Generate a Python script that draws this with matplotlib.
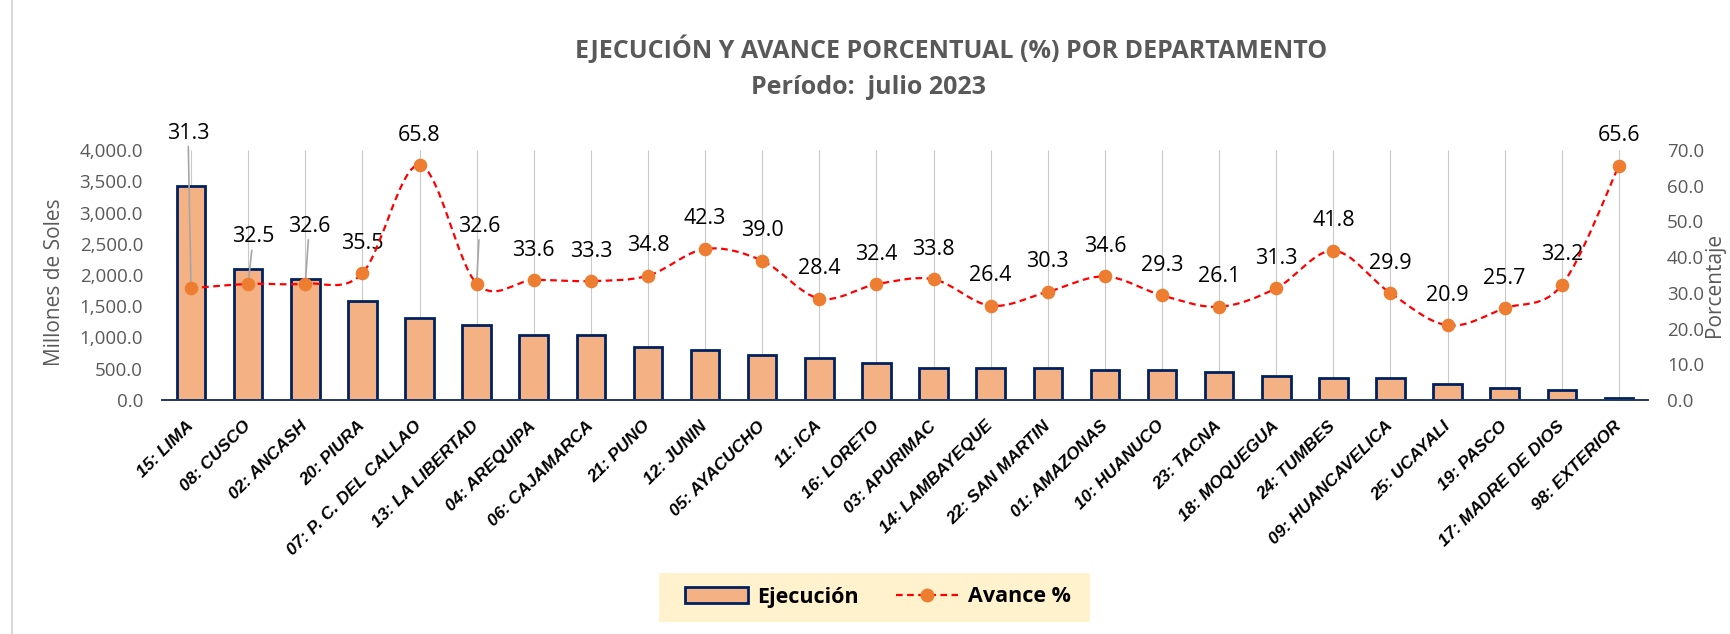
import matplotlib
matplotlib.use('Agg')
import matplotlib.pyplot as plt
from matplotlib.path import Path
from matplotlib.patches import PathPatch, Patch, Rectangle
from matplotlib.lines import Line2D
import matplotlib.ticker as mticker
import numpy as np

plt.rcParams['font.family'] = ['Open Sans', 'DejaVu Sans']

# datos
departamentos = ['15: LIMA', '08: CUSCO', '02: ANCASH', '20: PIURA', '07: P. C. DEL CALLAO',
                 '13: LA LIBERTAD', '04: AREQUIPA', '06: CAJAMARCA', '21: PUNO', '12: JUNIN',
                 '05: AYACUCHO', '11: ICA', '16: LORETO', '03: APURIMAC', '14: LAMBAYEQUE',
                 '22: SAN MARTIN', '01: AMAZONAS', '10: HUANUCO', '23: TACNA', '18: MOQUEGUA',
                 '24: TUMBES', '09: HUANCAVELICA', '25: UCAYALI', '19: PASCO',
                 '17: MADRE DE DIOS', '98: EXTERIOR']
ejecucion = [3430, 2090, 1940, 1590, 1320, 1195, 1035, 1035, 850, 795, 720, 665, 595,
             505, 505, 505, 475, 475, 445, 385, 355, 355, 255, 195, 155, 30]
avance = [31.3, 32.5, 32.6, 35.5, 65.8, 32.6, 33.6, 33.3, 34.8, 42.3, 39.0, 28.4, 32.4,
          33.8, 26.4, 30.3, 34.6, 29.3, 26.1, 31.3, 41.8, 29.9, 20.9, 25.7, 32.2, 65.6]

COLORS = {'bar': '#F4B183', 'edge': '#002060', 'line': '#FF0000', 'marker': '#ED7D31',
          'grid': '#C9C9C9', 'text': '#595959'}

W, H = 1731, 634
fig = plt.figure(figsize=(W / 100, H / 100), dpi=100)
ax = fig.add_axes([162.5 / W, 234 / H, 1485 / W, 250 / H])
ax2 = ax.twinx()

x = np.arange(len(departamentos))

# lineas verticales de fondo
ax.vlines(x, 0, 4000, color=COLORS['grid'], lw=0.8, zorder=0)
ax.bar(x, ejecucion, width=0.5, color=COLORS['bar'], edgecolor=COLORS['edge'],
       linewidth=2.0, zorder=2)

ax.set_xlim(-0.5, len(departamentos) - 0.5)
ax.set_ylim(0, 4000)
ax.set_yticks(np.arange(0, 4001, 500))
ax.yaxis.set_major_formatter(mticker.FuncFormatter(lambda v, p: f"{v:,.1f}"))
ax.set_xticks(x)
ax.set_xticklabels(departamentos, rotation=45, ha='right', va='center',
                   rotation_mode='anchor', fontsize=12.5, fontweight='bold',
                   fontstyle='italic', color='black',
                   family=['Liberation Sans', 'DejaVu Sans'])
ax.tick_params(axis='x', length=0, pad=17)
ax.tick_params(axis='y', length=0, pad=14, labelsize=13.5, labelcolor=COLORS['text'])

# linea suavizada (tipo Excel)
pts = np.column_stack([x, avance]).astype(float)
n = len(pts)
verts = [tuple(pts[0])]
codes = [Path.MOVETO]
for i in range(n - 1):
    p0 = pts[max(i - 1, 0)]
    p1 = pts[i]
    p2 = pts[i + 1]
    p3 = pts[min(i + 2, n - 1)]
    c1 = p1 + (p2 - p0) / 6
    c2 = p2 - (p3 - p1) / 6
    verts += [tuple(c1), tuple(c2), tuple(p2)]
    codes += [Path.CURVE4] * 3
ax2.add_patch(PathPatch(Path(verts, codes), fill=False, edgecolor=COLORS['line'],
                        lw=1.6, linestyle=(0, (3, 2)), zorder=2))
ax2.plot(x, avance, ls='none', marker='o', ms=8.8, mfc=COLORS['marker'],
         mec=COLORS['marker'], zorder=3)

ax2.set_ylim(0, 70)
ax2.set_yticks(np.arange(0, 71, 10))
ax2.yaxis.set_major_formatter(mticker.FuncFormatter(lambda v, p: f"{v:.1f}"))
ax2.tick_params(axis='y', length=0, pad=14, labelsize=13.5, labelcolor=COLORS['text'])

for a in (ax, ax2):
    for s in ('top', 'left', 'right'):
        a.spines[s].set_visible(False)
    a.spines['bottom'].set_color('#1F3864')
    a.spines['bottom'].set_linewidth(1.2)

# etiquetas de datos (desplazamiento en px)
off_y = {0: 155, 1: 47, 2: 57, 5: 57}
off_x = {0: -3, 1: 5, 2: 4, 5: 3}
for i, v in enumerate(avance):
    dy = off_y.get(i, 30) * 0.72
    dx = off_x.get(i, 0) * 0.72
    arrow = None
    if i in off_y:
        arrow = dict(arrowstyle='-', color='#A6A6A6', lw=1.2, shrinkA=0, shrinkB=0)
    ax2.annotate(f"{v:.1f}", (i, v), xytext=(dx, dy), textcoords='offset points',
                 ha='center', va='center', fontsize=15.5, color='black',
                 arrowprops=arrow, zorder=1)

# titulos
fig.text(951 / W, 1 - 50 / H, 'EJECUCIÓN Y AVANCE PORCENTUAL (%) POR DEPARTAMENTO',
         ha='center', va='center', fontsize=18, fontweight='bold', color=COLORS['text'])
fig.text(869 / W, 1 - 88 / H, 'Período:  julio 2023', ha='center', va='center',
         fontsize=18, fontweight='bold', color=COLORS['text'])
fig.text(55 / W, 1 - 282 / H, 'Millones de Soles', rotation=90, ha='center', va='center',
         fontsize=15, color=COLORS['text'])
fig.text(1715 / W, 1 - 285 / H, 'Porcentaje', rotation=90, ha='center', va='center',
         fontsize=15, color=COLORS['text'])

# leyenda
fig.patches.append(Rectangle((659 / W, 1 - 622 / H), 431 / W, 49 / H,
                             transform=fig.transFigure, facecolor='#FFF2CC',
                             edgecolor='none', zorder=0))
handles = [Patch(facecolor=COLORS['bar'], edgecolor=COLORS['edge'], linewidth=2.0),
           Line2D([], [], color=COLORS['line'], ls=(0, (3, 2)), lw=1.6, marker='o',
                  ms=9, mfc=COLORS['marker'], mec=COLORS['marker'])]
fig.legend(handles, ['Ejecución', 'Avance %'], loc='center',
           bbox_to_anchor=(878 / W, 1 - 597 / H), ncol=2, frameon=False,
           prop=dict(weight='bold', size=15.5), handlelength=2.9, handletextpad=0.45,
           columnspacing=1.7)

# borde izquierdo del grafico
fig.add_artist(Line2D([12 / W, 12 / W], [0, 1], transform=fig.transFigure,
                      color='#D9D9D9', lw=1.5))

fig.savefig('out.png', dpi=100)
